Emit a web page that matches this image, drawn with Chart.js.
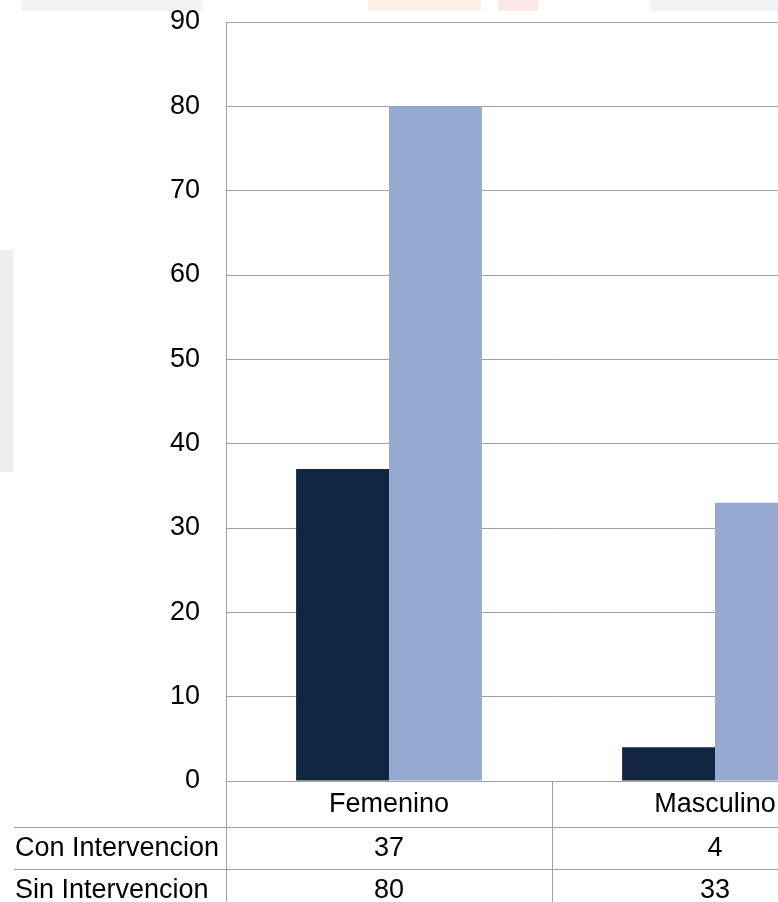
<!DOCTYPE html>
<html>
<head>
<meta charset="utf-8">
<script src="https://cdn.jsdelivr.net/npm/chart.js@4"></script>
<style>
  html, body { margin: 0; padding: 0; background: #fff; overflow: hidden; }
  #wrap { position: relative; width: 880px; height: 912px; }
</style>
</head>
<body>
<div id="wrap"><canvas id="chart"></canvas></div>
<script>
const categories = ["Femenino", "Masculino"];
const seriesNames = ["Con Intervencion", "Sin Intervencion"];
const conIntervencion = [37, 4];
const sinIntervencion = [80, 33];
const seriesColors = ["#132641", "#95a9d1"];

const FONT = "Liberation Sans, Arial, sans-serif";
const FONT_SIZE = 27;
const LINE = "#a0a0a0";

// faint slide artwork behind the chart
const backdrop = {
  id: "backdrop",
  beforeDraw(chart) {
    const ctx = chart.ctx;
    ctx.save();
    ctx.fillStyle = "#f3f3f6";
    ctx.fillRect(22, 0, 181, 11);
    ctx.fillRect(650, 0, 230, 11);
    ctx.fillStyle = "#fdf1e6";
    ctx.fillRect(368, 0, 113, 11);
    ctx.fillStyle = "#fbe8e8";
    ctx.fillRect(498, 0, 40, 11);
    ctx.fillStyle = "#efeff3";
    ctx.fillRect(0, 250, 13, 222);
    ctx.restore();
  }
};

// data table under the plot: category row plus one row per series
const dataTable = {
  id: "dataTable",
  afterDraw(chart) {
    const ctx = chart.ctx;
    const area = chart.chartArea;
    const x = chart.scales.x;
    const top = area.bottom;
    const rowH = [46, 42, 42];
    const bottom = chart.height;
    const step = x.getPixelForValue(1) - x.getPixelForValue(0);

    ctx.save();
    ctx.strokeStyle = LINE;
    ctx.lineWidth = 1;
    ctx.beginPath();
    ctx.moveTo(area.left + 0.5, top);
    ctx.lineTo(area.left + 0.5, bottom);
    categories.forEach((c, i) => {
      const edge = Math.round(x.getPixelForValue(i) + step / 2) + 0.5;
      ctx.moveTo(edge, top);
      ctx.lineTo(edge, bottom);
    });
    let y = top + rowH[0];
    for (let r = 1; r < rowH.length; r++) {
      ctx.moveTo(14, y + 0.5);
      ctx.lineTo(area.right, y + 0.5);
      y += rowH[r];
    }
    ctx.stroke();

    ctx.fillStyle = "#000";
    ctx.font = FONT_SIZE + "px " + FONT;
    ctx.textBaseline = "middle";
    ctx.textAlign = "center";
    categories.forEach((c, i) => {
      ctx.fillText(c, x.getPixelForValue(i), top + rowH[0] / 2 + 1);
    });
    const rows = [conIntervencion, sinIntervencion];
    let rowTop = top + rowH[0];
    rows.forEach((vals, r) => {
      const mid = rowTop + rowH[r + 1] / 2 + 1;
      ctx.textAlign = "left";
      ctx.fillText(seriesNames[r], 15, mid);
      ctx.textAlign = "center";
      vals.forEach((v, i) => ctx.fillText(String(v), x.getPixelForValue(i), mid));
      rowTop += rowH[r + 1];
    });
    ctx.restore();
  }
};

new Chart(document.getElementById("chart"), {
  type: "bar",
  data: {
    labels: categories,
    datasets: [
      { label: seriesNames[0], data: conIntervencion, backgroundColor: seriesColors[0] },
      { label: seriesNames[1], data: sinIntervencion, backgroundColor: seriesColors[1] }
    ]
  },
  options: {
    responsive: true,
    maintainAspectRatio: false,
    animation: false,
    layout: { padding: { top: 22, right: 2, left: 0, bottom: 0 } },
    datasets: { bar: { categoryPercentage: 0.57, barPercentage: 1 } },
    plugins: { legend: { display: false }, tooltip: { enabled: false } },
    scales: {
      x: {
        offset: true,
        grid: { display: false },
        border: { display: false },
        ticks: { display: false },
        afterFit(scale) { scale.height = 131; }
      },
      y: {
        min: 0,
        max: 90,
        ticks: { stepSize: 10, color: "#000", padding: 26, font: { family: FONT, size: FONT_SIZE } },
        grid: { color: LINE, lineWidth: 1, drawTicks: false },
        border: { color: LINE, width: 1 },
        afterFit(scale) {
          scale.width = 226;
          scale.paddingTop = 0;
          scale.paddingBottom = 0;
        }
      }
    }
  },
  plugins: [backdrop, dataTable]
});
</script>
</body>
</html>
